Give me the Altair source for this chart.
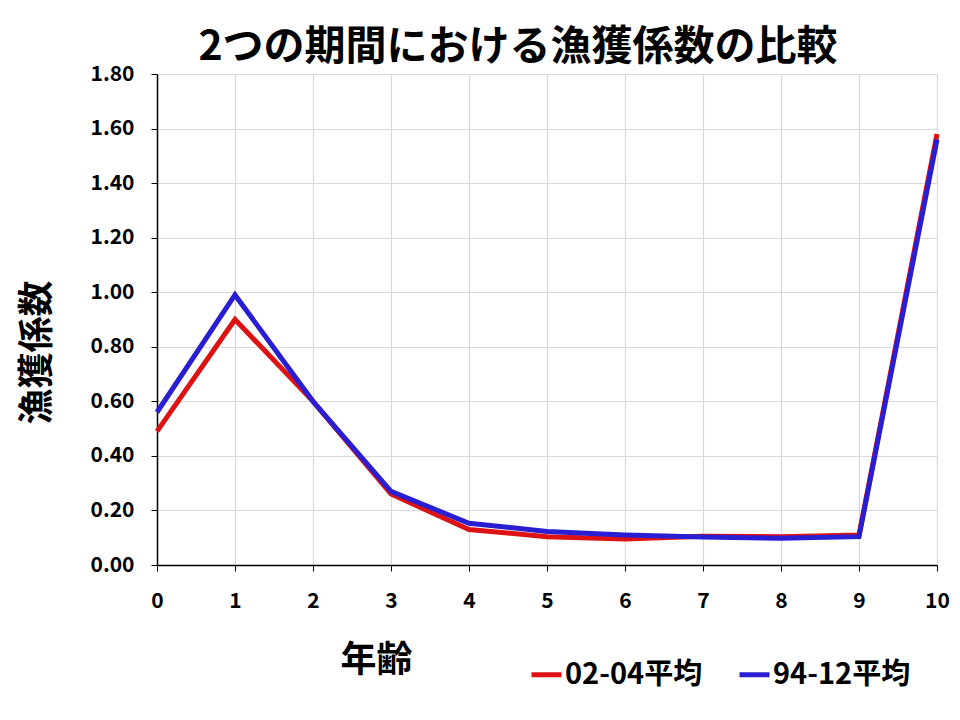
import altair as alt
import pandas as pd

ages = [0, 1, 2, 3, 4, 5, 6, 7, 8, 9, 10]
f_0204 = [0.49, 0.90, 0.60, 0.26, 0.13, 0.104, 0.095, 0.105, 0.104, 0.11, 1.58]
f_9412 = [0.56, 0.99, 0.60, 0.27, 0.153, 0.123, 0.11, 0.103, 0.098, 0.104, 1.56]
series = ["02-04平均", "94-12平均"]
colors = ["#dd1313", "#2a1ed2"]

rows = []
for a, v in zip(ages, f_0204):
    rows.append({"age": a, "F": v, "series": series[0]})
for a, v in zip(ages, f_9412):
    rows.append({"age": a, "F": v, "series": series[1]})
df = pd.DataFrame(rows)

FONT = "Noto Sans CJK JP"

chart = alt.Chart(df).mark_line(strokeWidth=5, strokeJoin="miter").encode(
    x=alt.X("age:Q", scale=alt.Scale(domain=[0, 10], nice=False, zero=False),
            axis=alt.Axis(values=ages, format="d", title="年齢", labelFlush=False,
                          labelPadding=19,
                          titleX=219, titleY=95, titleBaseline="middle",
                          titleAnchor="start", titleAlign="center")),
    y=alt.Y("F:Q", scale=alt.Scale(domain=[0, 1.8], nice=False),
            axis=alt.Axis(values=[0, 0.2, 0.4, 0.6, 0.8, 1.0, 1.2, 1.4, 1.6, 1.8],
                          format=".2f", title="漁獲係数", labelPadding=17,
                          titleX=-120, titleY=278, titleAngle=-90,
                          titleAlign="center", titleBaseline="middle")),
    color=alt.Color("series:N", scale=alt.Scale(domain=series, range=colors),
                    legend=alt.Legend(title=None, orient="none", direction="horizontal",
                                      legendX=372, legendY=583, symbolType="stroke",
                                      symbolStrokeWidth=5, symbolSize=900,
                                      columnPadding=26, labelOffset=1)),
).properties(
    width=780, height=491,
    autosize=alt.AutoSizeParams(type="none"),
    padding={"left": 149, "top": 66, "right": 15, "bottom": 140},
    title=alt.Title("2つの期間における漁獲係数の比較", fontSize=41, font=FONT,
                    fontWeight="bold", anchor="middle", dx=-29, dy=18, offset=12,
                    color="black"),
).configure_view(stroke=None).configure_axis(
    labelFont=FONT, labelFontSize=21, labelFontWeight="bold", labelColor="black",
    titleFont=FONT, titleFontSize=36, titleFontWeight="bold", titleColor="black",
    domainColor="black", domainWidth=1.5, tickColor="black", tickSize=6,
    gridColor="#d9d9d9", gridWidth=1.2,
).configure_legend(
    labelFont=FONT, labelFontSize=29, labelFontWeight="bold", labelColor="black",
)

chart.save("out.html", embed_options={"renderer": "svg", "actions": False})
